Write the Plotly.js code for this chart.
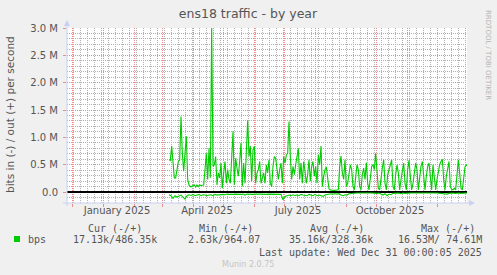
<!DOCTYPE html>
<html>
<head>
<meta charset="utf-8">
<script src="https://cdn.plot.ly/plotly-3.0.1.min.js"></script>
<style>html,body{margin:0;padding:0;background:#f0f0f0;}#chart{width:497px;height:275px;}</style>
</head>
<body>
<div id="chart"></div>
<script>
// ---- data (values in millions of bits per second) ----
const xRange = ['2024-11-26', '2025-12-31'];
const outStart = '2025-03-08';
const outStepHours = 32;
const outM = [
  0.59,0.58,0.84,0.56,0.26,0.26,0.41,0.56,0.58,1.38,
  0.71,0.38,0.71,1.02,0.23,0.13,0.10,0.10,0.12,0.13,
  0.09,0.13,0.10,0.13,0.12,0.13,0.13,0.41,0.71,0.23,
  0.80,0.26,3.00,0.47,0.50,0.65,0.13,0.35,0.26,0.53,
  0.07,0.35,0.56,0.16,0.41,0.23,0.16,0.62,1.11,0.13,
  0.62,0.44,0.29,0.56,0.90,0.10,0.53,0.16,0.65,1.31,
  0.65,0.84,0.20,0.77,0.84,0.16,0.35,0.41,0.56,0.16,
  0.26,0.35,0.16,0.50,0.35,0.59,0.16,0.10,0.47,0.65,
  0.62,0.44,0.23,0.41,0.53,0.16,0.65,0.53,0.68,0.71,
  1.29,0.65,0.23,0.47,0.32,0.50,0.68,0.80,0.23,0.53,
  0.16,0.56,0.38,0.16,0.32,0.59,0.20,0.47,0.56,0.29,
  0.47,0.16,0.68,0.50,
  0.84,0.10,0.29,0.41,0.46,0.23,0.06,0.04,0.03,0.03,
  0.03,0.03,0.03,0.04,0.47,0.66,0.35,0.23,0.59,0.10,
  0.16,0.38,0.50,0.41,0.10,0.04,0.35,0.50,0.41,0.10,
  0.04,0.32,0.44,0.23,0.54,0.16,0.04,0.29,0.47,0.50,
  0.41,0.71,0.29,0.07,0.04,0.29,0.44,0.59,0.16,0.04,
  0.32,0.41,0.52,0.59,0.10,0.04,0.32,0.50,0.35,0.04,
  0.23,0.41,0.53,0.16,0.04,0.41,0.58,0.29,0.04,0.16,
  0.41,0.53,0.41,0.04,0.26,0.47,0.56,0.35,0.04,0.29,
  0.47,0.53,0.23,0.04,0.50,0.32,0.04,0.23,0.41,0.50,
  0.56,0.60,0.23,0.04,0.29,0.41,0.56,0.10,0.05,0.04,
  0.07,0.04,0.41,0.59,0.35,0.07,0.04,0.29,0.46,0.50,
  0.48
];
const inStart = '2025-03-08';
const inStepHours = 48;
const inM = [
  -0.049,-0.067,-0.116,-0.067,-0.091,-0.079,-0.055,-0.091,-0.128,-0.067,
  -0.049,-0.061,-0.043,-0.067,-0.055,-0.043,-0.067,-0.049,-0.055,-0.067,
  -0.055,-0.049,-0.067,-0.043,-0.055,-0.049,-0.043,-0.043,-0.049,-0.037,
  -0.043,-0.049,-0.043,-0.037,-0.043,-0.037,-0.043,-0.037,-0.055,-0.037,
  -0.043,-0.037,-0.043,-0.037,-0.043,-0.037,-0.037,-0.043,-0.037,-0.043,
  -0.037,-0.037,-0.043,-0.037,-0.037,-0.037,-0.043,-0.140,-0.079,-0.067,
  -0.055,-0.067,-0.049,-0.061,-0.055,-0.067,-0.043,-0.055,-0.061,-0.067,
  -0.043,-0.061,-0.067,-0.043,-0.067,-0.055,
  -0.067,-0.079,-0.055,-0.049,-0.030,-0.030,-0.037,-0.030,-0.037,-0.030,
  -0.055,-0.067,-0.049,-0.055,-0.030,-0.024,-0.018,-0.024,-0.018,-0.018,
  -0.024,-0.018,-0.018,-0.024,-0.018,-0.018,-0.024,-0.018,-0.024,-0.018,
  -0.030,-0.055,-0.030,-0.067,-0.037,-0.049,-0.024,-0.018,-0.024,-0.018,
  -0.030,-0.018,-0.024,-0.018,-0.024,-0.018,-0.018,-0.024,-0.018,-0.018,
  -0.024,-0.018,-0.018,-0.024,-0.018,-0.018,-0.024,-0.018,-0.018,-0.024,
  -0.030,-0.037,-0.030,-0.037,-0.024,-0.018,-0.018,-0.024,-0.018,-0.018,
  -0.024,-0.018,-0.018,-0.018,-0.018
];
const yTickVals = [0, 0.5, 1.0, 1.5, 2.0, 2.5, 3.0];
const yTickText = ['0.0', '0.5 M', '1.0 M', '1.5 M', '2.0 M', '2.5 M', '3.0 M'];
const xTickVals = ['2025-01-15', '2025-04-15', '2025-07-15', '2025-10-15'];
const xTickText = ['January 2025', 'April 2025', 'July 2025', 'October 2025'];
const seriesName = 'bps';
const legendHeaders = ['Cur (-/+)', 'Min (-/+)', 'Avg (-/+)', 'Max (-/+)'];
const legendValues = ['17.13k/486.35k', '2.63k/964.07', '35.16k/328.36k', '16.53M/ 74.61M'];
const lastUpdate = 'Last update: Wed Dec 31 00:00:05 2025';
const titleText = 'ens18 traffic - by year';
const yTitle = 'bits in (-) / out (+) per second';
const sideText = 'RRDTOOL / TOBI OETIKER';
const footer = 'Munin 2.0.75';

// ---- layout helpers (pixel -> paper) ----
const PL = 67, PT = 28, PW = 400, PH = 175, W = 497, H = 275;
const px = v => (v - PL) / PW;
const py = v => (PT + PH - v) / PH;
const GREEN = '#00cc00';
const RED = 'rgb(232,140,140)';
const GREY = 'rgb(176,176,176)';
const AXIS = '#c9d0f2';
const TXT = '#555555';
const DAY = 86400000;
const DOTS = '1px,1px';

// minor (0.1 M) grid values, skipping the major 0.5 M lines
const yMinorVals = [];
for (let k = -2; k <= 30; k++) { if (k % 5 !== 0) yMinorVals.push(k * 1e5); }

const traces = [
  { type: 'scatter', mode: 'lines', x0: outStart, dx: outStepHours * 3600000,
    y: outM.map(v => v * 1e6), line: { color: GREEN, width: 1.1 }, xaxis: 'x', yaxis: 'y', hoverinfo: 'skip' },
  { type: 'scatter', mode: 'lines', x0: inStart, dx: inStepHours * 3600000,
    y: inM.map(v => v * 1e6), line: { color: GREEN, width: 1.1 }, xaxis: 'x2', yaxis: 'y', hoverinfo: 'skip' },
  { type: 'scatter', mode: 'lines', x: [], y: [], xaxis: 'x3', yaxis: 'y2', hoverinfo: 'skip' }
];

function ann(text, x, y, xanchor, font, extra) {
  return Object.assign({ text: text, xref: 'paper', yref: 'paper', x: px(x), y: py(y),
    xanchor: xanchor, yanchor: 'middle', showarrow: false, font: font, borderpad: 0 }, extra || {});
}
const mono = { family: 'DejaVu Sans Mono', size: 10, color: TXT };
const headerX = [143, 254, 365, 476];
const valueX = [158, 261, 374, 483];
const annotations = [
  ann(yTitle, 10, 115, 'center', { family: 'DejaVu Sans', size: 10.5, color: TXT }, { textangle: -90 }),
  ann(sideText, 488, 55, 'center', { family: 'DejaVu Sans', size: 7, color: '#b5b5b5' }, { textangle: 90 }),
  ann(seriesName, 27, 239, 'left', mono),
  ann(lastUpdate, 483, 252, 'right', mono),
  ann(footer, 248, 264, 'center', { family: 'DejaVu Sans', size: 8, color: '#c4c4c4' })
];
legendHeaders.forEach((t, i) => annotations.push(ann(t, headerX[i], 228, 'right', mono)));
legendValues.forEach((t, i) => annotations.push(ann(t, valueX[i], 239, 'right', mono)));

const P = (x, y) => px(x) + ',' + py(y);
const shapes = [
  { type: 'line', xref: 'paper', yref: 'paper', x0: px(PL), x1: px(PL), y0: py(206), y1: py(23), line: { color: AXIS, width: 1 } },
  { type: 'line', xref: 'paper', yref: 'paper', x0: px(63), x1: px(470), y0: py(203), y1: py(203), line: { color: AXIS, width: 1 } },
  { type: 'path', xref: 'paper', yref: 'paper', path: 'M' + P(64, 26) + 'L' + P(67, 20) + 'L' + P(70, 26) + 'Z', fillcolor: AXIS, line: { width: 0 } },
  { type: 'path', xref: 'paper', yref: 'paper', path: 'M' + P(469, 200) + 'L' + P(475, 203) + 'L' + P(469, 206) + 'Z', fillcolor: AXIS, line: { width: 0 } },
  { type: 'rect', xref: 'paper', yref: 'paper', x0: px(14), x1: px(20), y0: py(242), y1: py(236), fillcolor: GREEN, line: { width: 0 } }
];

const layout = {
  width: W, height: H,
  paper_bgcolor: '#f0f0f0', plot_bgcolor: '#ffffff',
  margin: { l: PL, r: W - PL - PW, t: PT, b: H - PT - PH, pad: 0 },
  font: { family: 'DejaVu Sans', size: 10, color: TXT },
  showlegend: false,
  title: { text: titleText, font: { family: 'DejaVu Sans', size: 12.5, color: TXT },
    x: 248 / W, xanchor: 'center', y: 1 - 14 / H, yanchor: 'middle', xref: 'container', yref: 'container' },
  // monthly major grid (red)
  xaxis: { type: 'date', range: xRange, showgrid: true, gridcolor: RED, griddash: DOTS, gridwidth: 1,
    tickmode: 'linear', tick0: '2024-12-01', dtick: 'M1', showticklabels: false,
    ticks: 'outside', ticklen: 3, tickcolor: RED, zeroline: false, showline: false },
  // quarter labels
  xaxis2: { type: 'date', overlaying: 'x', anchor: 'y', side: 'bottom', range: xRange,
    tickmode: 'array', tickvals: xTickVals, ticktext: xTickText, showgrid: false, ticks: '',
    zeroline: false, showline: false, tickfont: { family: 'DejaVu Sans', size: 10, color: TXT } },
  // weekly minor grid (grey)
  xaxis3: { type: 'date', overlaying: 'x', anchor: 'y', side: 'bottom', range: xRange,
    tickmode: 'linear', tick0: '2024-11-25', dtick: 7 * DAY, showticklabels: false, ticks: '',
    showgrid: true, gridcolor: GREY, griddash: DOTS, gridwidth: 1, zeroline: false, showline: false },
  yaxis: { range: [-0.2e6, 3.0e6], tickmode: 'array', tickvals: yTickVals.map(v => v * 1e6), ticktext: yTickText,
    showgrid: true, gridcolor: RED, griddash: DOTS, gridwidth: 1,
    zeroline: true, zerolinecolor: '#000000', zerolinewidth: 1.5, showline: false,
    ticks: 'outside', ticklen: 3, tickcolor: RED, ticklabelstandoff: 3,
    tickfont: { family: 'DejaVu Sans', size: 10, color: TXT } },
  yaxis2: { range: [-0.2e6, 3.0e6], overlaying: 'y', anchor: 'x', side: 'left',
    tickmode: 'array', tickvals: yMinorVals, showticklabels: false, ticks: '',
    showgrid: true, gridcolor: GREY, griddash: DOTS, gridwidth: 1, zeroline: false, showline: false },
  annotations: annotations,
  shapes: shapes
};

Plotly.newPlot('chart', traces, layout, { staticPlot: true, displayModeBar: false });
</script>
</body>
</html>
